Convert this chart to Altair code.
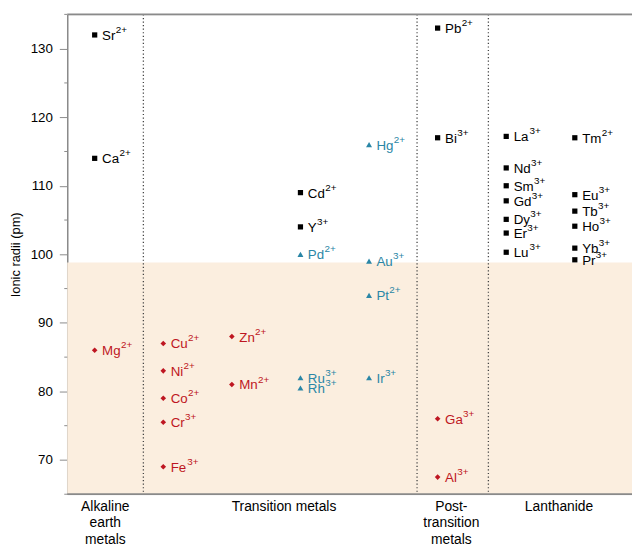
import altair as alt
import pandas as pd

# ---------------- data ----------------
group_names = ["Alkaline\nearth\nmetals", "Transition metals", "Post-\ntransition\nmetals", "Lanthanide"]
group_x = [1.155, 3.76, 6.2, 7.77]
divider_x = [1.71, 5.70, 6.74]
band_low, band_high = 65, 98.8

black_el = ["Sr", "Ca", "Cd", "Y", "Pb", "Bi", "La", "Nd", "Sm", "Gd", "Dy", "Er", "Lu",
            "Tm", "Eu", "Tb", "Ho", "Yb", "Pr"]
black_ch = ["2+", "2+", "2+", "3+", "2+", "3+", "3+", "3+", "3+", "3+", "3+", "3+", "3+",
            "2+", "3+", "3+", "3+", "3+", "3+"]
black_x = [1, 1, 4, 4, 6, 6, 7, 7, 7, 7, 7, 7, 7, 8, 8, 8, 8, 8, 8]
black_r = [132, 114, 109, 104, 133, 117, 117.2, 112.6, 110, 107.8, 105.1, 103.1, 100.3,
           117, 108.7, 106.3, 104.1, 100.9, 99.2]

red_el = ["Mg", "Cu", "Ni", "Co", "Cr", "Fe", "Zn", "Mn", "Ga", "Al"]
red_ch = ["2+", "2+", "2+", "2+", "3+", "3+", "2+", "2+", "3+", "3+"]
red_x = [1, 2, 2, 2, 2, 2, 3, 3, 6, 6]
red_r = [86, 87, 83, 79, 75.5, 69, 88, 81, 76, 67.5]

teal_el = ["Pd", "Ru", "Rh", "Hg", "Au", "Pt", "Ir"]
teal_ch = ["2+", "3+", "3+", "2+", "3+", "2+", "3+"]
teal_x = [4, 4, 4, 5, 5, 5, 5]
teal_r = [100, 82, 80.5, 116, 99, 94, 82]

minor_ticks = [65, 75, 85, 95, 105, 115, 125, 135]
major_ticks = [70, 80, 90, 100, 110, 120, 130]

# ---------------- layout ----------------
W, H = 572, 486
PXU = 69.47
X0 = 0.6
X1 = X0 + W / PXU
FONT = "Liberation Sans, Arial, sans-serif"
BASE_FS = 13.5
SUP_FS = 10
TEXT_DX = 7.5

# Arial advance widths (per 1000 em) for label layout
adv = {"S": 667, "r": 333, "C": 722, "a": 556, "M": 833, "g": 556, "u": 556, "N": 722,
       "i": 222, "o": 556, "F": 667, "e": 556, "Z": 611, "n": 556, "R": 722, "h": 556,
       "I": 278, "H": 722, "d": 556, "Y": 667, "P": 667, "t": 278, "A": 667, "l": 222,
       "b": 556, "B": 667, "L": 611, "m": 833, "G": 778, "D": 722, "y": 500, "E": 667,
       "T": 611}

rows = []
for els, chs, xs, rs, s in [(black_el, black_ch, black_x, black_r, "black"),
                            (red_el, red_ch, red_x, red_r, "red"),
                            (teal_el, teal_ch, teal_x, teal_r, "teal")]:
    for e, c, x, r in zip(els, chs, xs, rs):
        w = sum(adv.get(ch, 556) for ch in e) * BASE_FS / 1000.0
        rows.append({"el": e, "ch": c, "x": x, "r": r, "series": s,
                     "xs": x + (TEXT_DX + w + 0.3) / PXU})
df = pd.DataFrame(rows)

xscale = alt.Scale(domain=[X0, X1], nice=False, zero=False)
yscale = alt.Scale(domain=[65, 135], nice=False, zero=False)
cscale = alt.Scale(domain=["black", "red", "teal"], range=["#000000", "#BE1622", "#2A86A6"])
sscale = alt.Scale(domain=["black", "red", "teal"], range=["square", "diamond", "triangle-up"])
zscale = alt.Scale(domain=["black", "red", "teal"], range=[28, 36, 42])

band = alt.Chart(pd.DataFrame({"x": [X0], "x2": [X1 + 1], "y": [band_low], "y2": [band_high]})).mark_rect(
    color="#FBEEDF").encode(
    x=alt.X("x:Q", scale=xscale, axis=None), x2="x2:Q",
    y=alt.Y("y:Q", scale=yscale,
            axis=alt.Axis(values=major_ticks, title="Ionic radii (pm)", grid=False,
                          domainColor="#8a8a8a", domainWidth=1.5, tickColor="#8a8a8a",
                          tickSize=8, tickWidth=1, labelPadding=7, labelFontSize=13.5,
                          labelFont=FONT, labelColor="#000000", titleFont=FONT,
                          titleFontSize=13, titleFontWeight="normal", titleColor="#000000",
                          titlePadding=8)),
    y2="y2:Q")

dividers = alt.Chart(pd.DataFrame({"x": divider_x})).mark_rule(
    color="#444444", strokeDash=[1.2, 2.4], strokeWidth=1.3).encode(
    x=alt.X("x:Q", scale=xscale), y=alt.value(0), y2=alt.value(H))

minor = alt.Chart(pd.DataFrame({"y": minor_ticks})).mark_rule(
    color="#8a8a8a", strokeWidth=1).encode(
    y=alt.Y("y:Q", scale=yscale), x=alt.value(-3), x2=alt.value(0))

top_line = alt.Chart(pd.DataFrame({"y": [135]})).mark_rule(
    color="#8a8a8a", strokeWidth=1.8).encode(
    y=alt.Y("y:Q", scale=yscale), x=alt.value(0), x2=alt.value(W + 2))
bottom_line = alt.Chart(pd.DataFrame({"y": [65]})).mark_rule(
    color="#8a8a8a", strokeWidth=1.8).encode(
    y=alt.Y("y:Q", scale=yscale), x=alt.value(0), x2=alt.value(W + 2))

points = alt.Chart(df).mark_point(filled=True, opacity=1).encode(
    x=alt.X("x:Q", scale=xscale),
    y=alt.Y("r:Q", scale=yscale),
    color=alt.Color("series:N", scale=cscale, legend=None),
    shape=alt.Shape("series:N", scale=sscale, legend=None),
    size=alt.Size("series:N", scale=zscale, legend=None))

base_txt = alt.Chart(df).mark_text(
    align="left", baseline="middle", dx=TEXT_DX, dy=1, fontSize=BASE_FS, font=FONT).encode(
    x=alt.X("x:Q", scale=xscale),
    y=alt.Y("r:Q", scale=yscale),
    text="el:N",
    color=alt.Color("series:N", scale=cscale, legend=None))

sup_txt = alt.Chart(df).mark_text(
    align="left", baseline="middle", dy=-5, fontSize=SUP_FS, font=FONT).encode(
    x=alt.X("xs:Q", scale=xscale),
    y=alt.Y("r:Q", scale=yscale),
    text="ch:N",
    color=alt.Color("series:N", scale=cscale, legend=None))

groups = alt.Chart(pd.DataFrame({"g": group_names, "x": group_x})).mark_text(
    align="center", baseline="top", lineBreak="\n", lineHeight=16.5, fontSize=14,
    font=FONT, color="#000000").encode(
    x=alt.X("x:Q", scale=xscale), y=alt.value(H + 6), text="g:N")

chart = alt.layer(band, dividers, minor, top_line, bottom_line, points, base_txt, sup_txt,
                  groups).properties(
    width=W, height=H,
    autosize=alt.AutoSizeParams(type="none"),
    padding={"left": 60, "top": 3, "right": 0, "bottom": 52},
).configure_view(stroke=None).configure(background="white")

chart.save("out.html", embed_options={"renderer": "svg", "actions": False})
